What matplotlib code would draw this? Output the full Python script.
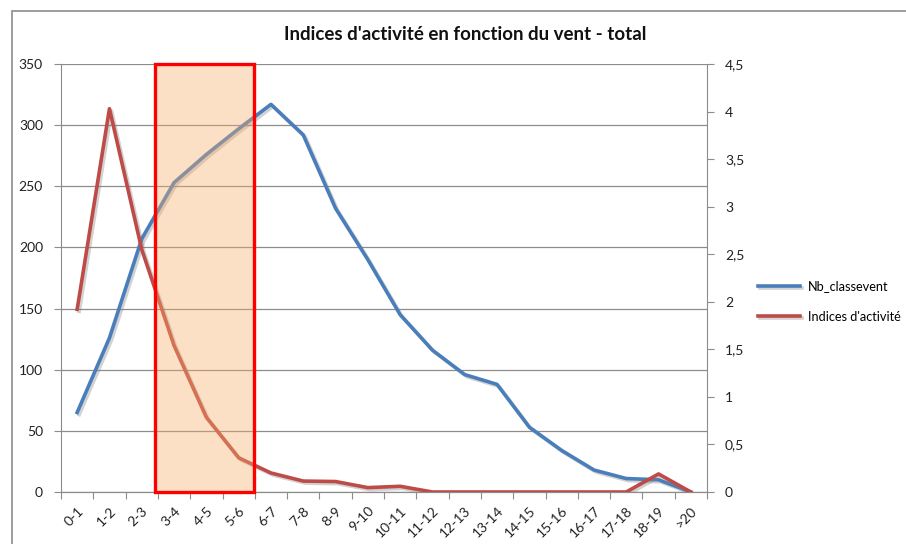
import matplotlib
matplotlib.use("Agg")
import matplotlib.pyplot as plt
import matplotlib.patheffects as pe
from matplotlib.patches import Rectangle
import numpy as np

categories = ["0-1", "1-2", "2-3", "3-4", "4-5", "5-6", "6-7", "7-8", "8-9", "9-10",
              "10-11", "11-12", "12-13", "13-14", "14-15", "15-16", "16-17", "17-18",
              "18-19", ">20"]
nb_classevent = [65, 126, 207, 253, 276, 297, 317, 292, 232, 190,
                 145, 116, 96, 88, 53, 34, 18, 11, 10, 0]
indices_activite = [1.92, 4.03, 2.55, 1.54, 0.785, 0.36, 0.20, 0.115, 0.11, 0.046,
                    0.06, 0, 0, 0, 0, 0, 0, 0, 0.19, 0]
left_ticks = [0, 50, 100, 150, 200, 250, 300, 350]
right_ticks = [0, 0.5, 1, 1.5, 2, 2.5, 3, 3.5, 4, 4.5]
right_labels = ["0", "0,5", "1", "1,5", "2", "2,5", "3", "3,5", "4", "4,5"]
highlight = (2.42, 5.46)  # span on the category axis

plt.rcParams['font.family'] = ['Lato', 'DejaVu Sans']

W, H = 906, 544
fig = plt.figure(figsize=(W / 100, H / 100), dpi=100)

# outer chart frame
fig.add_artist(Rectangle((12 / W, -0.1), 1.2, 1 - 11 / H + 0.1, transform=fig.transFigure,
                         fill=False, edgecolor='#8c8c8c', lw=1.2))

ax = fig.add_axes([61 / W, 1 - 492 / H, (707 - 61) / W, (492 - 64) / H])
ax2 = ax.twinx()

x = np.arange(len(categories))
shadow = [pe.SimpleLineShadow(offset=(1.5, -1.5), shadow_color='#7f7f7f', alpha=0.35), pe.Normal()]

l1, = ax.plot(x, nb_classevent, color='#4a7ebb', lw=2.6, solid_joinstyle='round',
              path_effects=shadow, label='Nb_classevent', zorder=3)
l2, = ax2.plot(x, indices_activite, color='#be4b48', lw=2.6, solid_joinstyle='round',
               path_effects=shadow, label="Indices d'activité", zorder=3)

ax.set_xlim(-0.5, len(categories) - 0.5)
ax.set_ylim(0, 350)
ax2.set_ylim(0, 4.5)

# highlight rectangle on top of lines
ax2.add_patch(Rectangle((highlight[0], 0), highlight[1] - highlight[0], 4.5,
                        facecolor='#f9b06a', alpha=0.38, edgecolor='none', zorder=5))
ax2.add_patch(Rectangle((highlight[0], 0), highlight[1] - highlight[0], 4.5,
                        fill=False, edgecolor='#ff0000', lw=2.4, zorder=6, clip_on=False))

# gridlines
ax.set_yticks(left_ticks)
ax.yaxis.grid(True, color='#8c8c8c', lw=0.9)
ax.set_axisbelow(True)

ax2.set_yticks(right_ticks)
ax2.set_yticklabels(right_labels)

for a in (ax, ax2):
    a.spines['top'].set_visible(False)
    a.spines['left'].set_color('#8c8c8c')
    a.spines['right'].set_color('#8c8c8c')
    a.spines['bottom'].set_color('#8c8c8c')
ax.spines['right'].set_visible(False)
ax2.spines['left'].set_visible(False)

ax.tick_params(axis='y', length=5, color='#8c8c8c', labelsize=10, labelcolor='#222222', pad=8)
ax2.tick_params(axis='y', length=5, color='#8c8c8c', labelsize=10, labelcolor='#222222', pad=8)

# x ticks at boundaries, labels at centers
ax.set_xticks(np.arange(-0.5, len(categories) + 0.5, 1))
ax.set_xticklabels([])
ax.tick_params(axis='x', which='major', length=5, color='#8c8c8c', direction='out')
ax.set_xticks(x, minor=True)
ax.set_xticklabels(categories, minor=True, rotation=45, ha='right', va='top',
                   rotation_mode='anchor', fontsize=10, color='#222222')
ax.tick_params(axis='x', which='minor', length=0, pad=9)

fig.text(465 / W, 1 - 35 / H, "Indices d'activité en fonction du vent - total",
         ha='center', va='center', fontsize=13.5, fontweight='bold', color='#111111')

fig.legend(handles=[l1, l2], loc='upper left', bbox_to_anchor=(753 / W, 1 - 275 / H),
           frameon=False, fontsize=9.2, handlelength=3.3, handletextpad=0.6,
           labelspacing=1.45, borderaxespad=0)

fig.savefig('out.png', dpi=100)
